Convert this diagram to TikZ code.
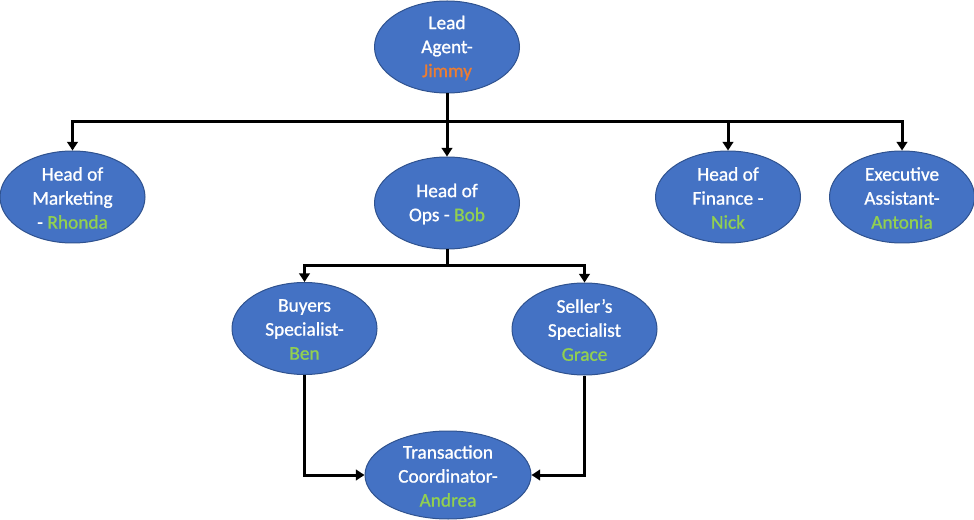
\documentclass[tikz,border=0pt]{standalone}
\usepackage{fontspec}
\setmainfont[FakeBold=1]{Carlito}
\usetikzlibrary{shapes.geometric,arrows.meta}
\definecolor{ofblue}{HTML}{4472C4}
\definecolor{ofedge}{HTML}{2F528F}
\definecolor{ofgreen}{HTML}{92D050}
\definecolor{oforange}{HTML}{ED7D31}
\begin{document}
\begin{tikzpicture}[x=0.75pt,y=-0.75pt,
  role/.style={ellipse,draw=ofedge,line width=0.75pt,fill=ofblue,inner sep=0pt,minimum width=108.75pt,minimum height=69pt},
  txt/.style={text=white,font=\fontsize{14.5}{18}\selectfont,align=center,inner sep=0pt},
  bar/.style={line width=2.25pt},
  link/.style={line width=2.25pt,-{Triangle[width=8pt,length=6.5pt]}}]
\useasboundingbox (0,0) rectangle (974,520);
% nodes
\node[role] (lead) at (447,47) {};
\node[txt] (leadt) at ([yshift=-0.75pt]lead.center) {Lead\\Agent-\\\textcolor{oforange}{Jimmy}};
\node[role] (mkt) at (72.5,197) {};
\node[txt] (mktt) at ([yshift=-0.75pt]mkt.center) {Head of\\Marketing\\- \textcolor{ofgreen}{Rhonda}};
\node[role] (ops) at (447,203) {};
\node[txt] (opst) at ([yshift=-0.75pt]ops.center) {Head of\\Ops - \textcolor{ofgreen}{Bob}};
\node[role] (fin) at (728,197) {};
\node[txt] (fint) at ([yshift=-0.75pt]fin.center) {Head of\\Finance -\\\textcolor{ofgreen}{Nick}};
\node[role] (exe) at (902,197) {};
\node[txt] (exet) at ([yshift=-0.75pt]exe.center) {Executive\\Assistant-\\\textcolor{ofgreen}{Antonia}};
\node[role] (buy) at (304.5,328.5) {};
\node[txt] (buyt) at ([yshift=-0.75pt]buy.center) {Buyers\\Specialist-\\\textcolor{ofgreen}{Ben}};
\node[role] (sel) at (584.5,329) {};
\node[txt] (selt) at ([yshift=-0.75pt]sel.center) {Seller’s\\Specialist\\\textcolor{ofgreen}{Grace}};
\node[role,minimum width=124.5pt,minimum height=66pt] (tc) at (448,475) {};
\node[txt] (tct) at ([yshift=-0.75pt]tc.center) {Transaction\\Coordinator-\\\textcolor{ofgreen}{Andrea}};
% junctions
\coordinate (j1) at (447,122);
\coordinate (j2) at (447,266);
% connectors
\draw[bar] (lead.south) -- (j1);
\draw[link] (j1) -| (mkt.north);
\draw[link] (j1) -- (ops.north);
\draw[link] (j1) -| (fin.north);
\draw[link] (j1) -| (exe.north);
\draw[bar] (ops.south) -- (j2);
\draw[link] (j2) -| (buy.north);
\draw[link] (j2) -| (sel.north);
\draw[link] (buy.south) |- (tc.west);
\draw[link] (sel.south) |- (tc.east);
\end{tikzpicture}
\end{document}
